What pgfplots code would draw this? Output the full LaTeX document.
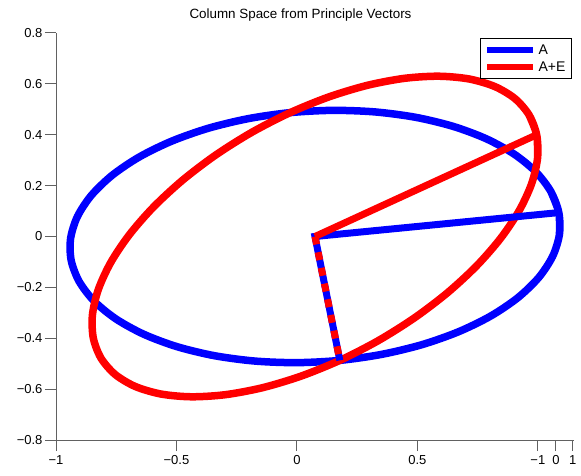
\documentclass[border=0pt]{standalone}
\usepackage{fontspec}
\setmainfont{Liberation Sans}
\usepackage{pgfplots}
\pgfplotsset{compat=1.18}
\begin{document}
\begin{tikzpicture}
\begin{axis}[
  scale only axis,
  width=518pt, height=407pt,
  xmin=-1, xmax=1.15, ymin=-0.8, ymax=0.8,
  axis x line=bottom, axis y line=left,
  axis line style={-, black!62, line width=1pt},
  tick style={black!62, line width=1pt},
  tick align=outside,
  major tick length=11pt,
  xtick={-1,-0.5,0,0.5,1.0,1.075,1.145},
  xticklabels={−1,−0.5,0,0.5,−1,0,1},
  ytick={-0.8,-0.6,-0.4,-0.2,0,0.2,0.4,0.6,0.8},
  yticklabels={−0.8,−0.6,−0.4,−0.2,0,0.2,0.4,0.6,0.8},
  tick label style={font=\fontsize{13}{15}\selectfont, text=black},
  xticklabel style={yshift=-1pt},
  yticklabel style={xshift=1pt},
  title={Column Space from Principle Vectors},
  title style={font=\fontsize{13.4}{15}\selectfont, at={(axis description cs:0.472,1)}, anchor=south, yshift=2pt},
  legend style={at={(axis cs:1.141,0.78)}, anchor=north east, draw=black, line width=0.8pt,
    font=\fontsize{14}{16}\selectfont, inner xsep=4pt, inner ysep=4pt, row sep=2pt},
  legend cell align=left,
  legend image code/.code={\draw[#1, line width=6.5pt] (0pt,0pt) -- (46pt,0pt);},
  clip=false,
]
% Blue ellipse (A)
\addplot[blue, line width=7.5pt, smooth] coordinates {
(1.0537,0.1771)(1.087,0.094)(1.0895,0.0081)(1.0612,-0.0783)(1.0029,-0.1621)(0.9164,-0.2410)
(0.8044,-0.3126)(0.6702,-0.3747)(0.5179,-0.4255)(0.3521,-0.4633)(0.178,-0.487)
(0.0007,-0.4959)(-0.1743,-0.4897)(-0.3418,-0.4687)(-0.4966,-0.4334)(-0.634,-0.385)
(-0.7499,-0.3249)(-0.8408,-0.2549)(-0.9037,-0.1771)(-0.937,-0.094)(-0.9395,-0.0081)
(-0.9112,0.0783)(-0.8529,0.1621)(-0.7664,0.2410)(-0.6544,0.3126)(-0.5202,0.3747)
(-0.3679,0.4255)(-0.2021,0.4633)(-0.028,0.487)(0.1493,0.4959)(0.3243,0.4897)
(0.4918,0.4687)(0.6466,0.4334)(0.784,0.385)(0.8999,0.3249)(0.9908,0.2549)
(1.0537,0.1771)(1.087,0.094)(1.0895,0.0081)
};
\addlegendentry{A}
% Red ellipse (A+E)
\addplot[red, line width=7.5pt, smooth] coordinates {
(0.9631,0.4784)(0.995,0.40)(0.9989,0.3094)(0.9747,0.2093)(0.9232,0.1029)(0.8459,-0.0066)
(0.7453,-0.1159)(0.6242,-0.2217)(0.4864,-0.3208)(0.3361,-0.4102)(0.178,-0.487)
(0.0167,-0.549)(-0.1428,-0.5944)(-0.2958,-0.6217)(-0.4375,-0.6301)(-0.5635,-0.6194)
(-0.6702,-0.5899)(-0.7543,-0.5425)(-0.8131,-0.4784)(-0.845,-0.40)(-0.8489,-0.3094)
(-0.8247,-0.2093)(-0.7732,-0.1029)(-0.6959,0.0066)(-0.5953,0.1159)(-0.4742,0.2217)
(-0.3364,0.3208)(-0.1861,0.4102)(-0.028,0.487)(0.1333,0.549)(0.2928,0.5944)
(0.4458,0.6217)(0.5875,0.6301)(0.7135,0.6194)(0.8202,0.5899)(0.9043,0.5425)
(0.9631,0.4784)(0.995,0.40)(0.9989,0.3094)
};
\addlegendentry{A+E}
% Principal vectors of A
\addplot[blue, line width=7pt, forget plot] coordinates {(1.087,0.094)(0.075,0)(0.178,-0.487)};
% Principal vectors of A+E
\addplot[red, line width=7pt, forget plot] coordinates {(0.995,0.40)(0.075,0)};
\addplot[red, line width=7pt, dash pattern=on 8pt off 8pt, forget plot] coordinates {(0.075,0)(0.178,-0.487)};
\end{axis}
\pgfresetboundingbox
\path (current axis.south west) ++(-56pt,-35pt) coordinate (bl);
\path (current axis.north east) ++(7pt,33pt) coordinate (tr);
\path (bl) rectangle (tr);
\end{tikzpicture}
\end{document}
